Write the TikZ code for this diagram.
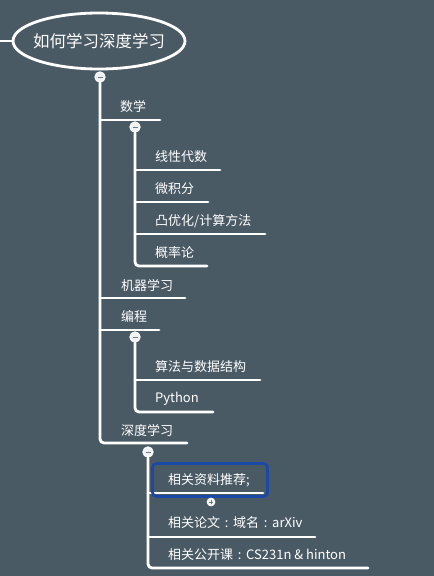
\documentclass[tikz,border=0pt]{standalone}
\usepackage{fontspec}
\newfontfamily\cjk{Noto Sans CJK SC}
\definecolor{bg}{HTML}{4A5A65}
\definecolor{hl}{HTML}{1C48A6}
\definecolor{minus}{HTML}{6A7A85}
\newcommand{\fwc}{\makebox[1em][c]{:}}
\begin{document}
\begin{tikzpicture}[x=1pt,y=-1pt,
  line/.style={draw=white,line width=2.8pt,line cap=round,rounded corners=4pt},
  lbl/.style={anchor=west,inner sep=0pt,text=white,font=\cjk\fontsize{13}{15}\selectfont},
  coll/.style={circle,fill=white!92!bg,draw=white,line width=0.8pt,minimum size=10.5pt,inner sep=0pt},
  expd/.style={circle,fill=white!92!bg,draw=white,line width=0.6pt,minimum size=8pt,inner sep=0pt}]
\fill[bg] (0,0) rectangle (434,576);
\useasboundingbox (0,0) rectangle (434,576);
% root
\node[inner sep=0pt,text=white,font=\cjk\fontsize{16.5}{18}\selectfont] (root) at (99,41) {如何学习深度学习};
\draw[draw=white,line width=2.8pt] (root.center) ellipse [x radius=86, y radius=28];
\coordinate (rootin) at (0,41);
\coordinate (rootw) at (13,41);
\draw[line] (rootin) -- (rootw);
\node[coll] (c0) at (100,77) {};
% level 1
\coordinate (t1a) at (100,120); \coordinate (e1a) at (160,120);
\coordinate (t1b) at (100,298); \coordinate (e1b) at (185,298);
\coordinate (t1c) at (100,330); \coordinate (e1c) at (159,330);
\coordinate (t1d) at (100,443); \coordinate (e1d) at (187,443);
\draw[line] (c0.south) -- (t1d) -- (e1d);
\draw[line] (t1a) -- (e1a);
\draw[line] (t1b) -- (e1b);
\draw[line] (t1c) -- (e1c);
\node[lbl] (n1) at (120,107) {数学};
\node[lbl] (n2) at (121,285) {机器学习};
\node[lbl] (n3) at (121,317) {编程};
\node[lbl] (n4) at (121,430) {深度学习};
% 数学 children
\node[coll] (c1) at (135,127) {};
\coordinate (t2a) at (135,170); \coordinate (e2a) at (220,170);
\coordinate (t2b) at (135,202); \coordinate (e2b) at (208,202);
\coordinate (t2c) at (135,234); \coordinate (e2c) at (265,234);
\coordinate (t2d) at (135,266); \coordinate (e2d) at (207,266);
\draw[line] (c1.south) -- (t2d) -- (e2d);
\draw[line] (t2a) -- (e2a);
\draw[line] (t2b) -- (e2b);
\draw[line] (t2c) -- (e2c);
\node[lbl] (m1) at (155,157) {线性代数};
\node[lbl] (m2) at (155,189) {微积分};
\node[lbl] (m3) at (155,221) {凸优化/计算方法};
\node[lbl] (m4) at (155,253) {概率论};
% 编程 children
\node[coll] (c2) at (135,337) {};
\coordinate (t3a) at (135,380); \coordinate (e3a) at (260,380);
\coordinate (t3b) at (135,412); \coordinate (e3b) at (213,412);
\draw[line] (c2.south) -- (t3b) -- (e3b);
\draw[line] (t3a) -- (e3a);
\node[lbl] (p1) at (155,367) {算法与数据结构};
\node[lbl] (p2) at (155,399) {Python};
% 深度学习 children
\node[coll] (c3) at (148,452) {};
\coordinate (t4a) at (148,493); \coordinate (e4a) at (263,493);
\coordinate (t4b) at (148,537); \coordinate (e4b) at (315,537);
\coordinate (t4c) at (148,568); \coordinate (e4c) at (368,568);
\draw[line] (c3.south) -- (t4c) -- (e4c);
\draw[line] (t4a) -- (e4a);
\draw[line] (t4b) -- (e4b);
\node[lbl] (d1) at (168,480) {相关资料推荐;};
\node[lbl] (d2) at (168,523) {相关论文\fwc 域名\fwc arXiv};
\node[lbl] (d3) at (168,555) {相关公开课\fwc CS231n \& hinton};
\node[draw=hl,line width=2.8pt,rounded corners=4pt,minimum width=115pt,minimum height=33pt,inner sep=0pt] (sel) at (210,480) {};
\node[expd] (x1) at (211,502) {};
% collapse/expand glyphs
\foreach \c in {c0,c1,c2,c3}{\draw[minus,line width=1pt] ([xshift=-2.5pt]\c.center) -- ([xshift=2.5pt]\c.center);}
\draw[minus,line width=1pt] ([xshift=-2.2pt]x1.center) -- ([xshift=2.2pt]x1.center);
\draw[minus,line width=1pt] ([yshift=-2.2pt]x1.center) -- ([yshift=2.2pt]x1.center);
\end{tikzpicture}
\end{document}
